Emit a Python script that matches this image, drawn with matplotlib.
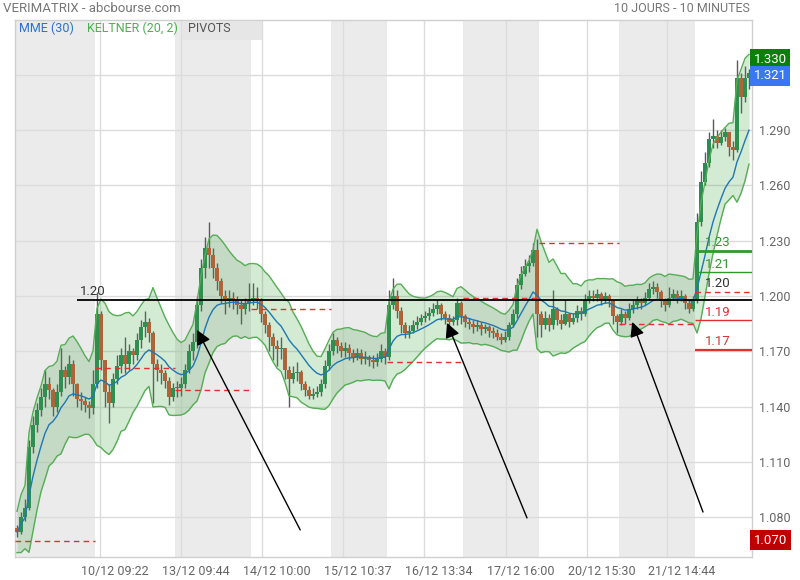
import numpy as np
import pandas as pd
import matplotlib
matplotlib.use("Agg")
import matplotlib.pyplot as plt
from matplotlib.patches import Rectangle
from matplotlib.transforms import blended_transform_factory

plt.rcParams['font.family'] = ['Roboto', 'DejaVu Sans']

# bars per trading day (coarser bars than the original 10 minute ones)
day_bars = [20, 20, 19, 20, 14, 19, 19, 20, 19, 14]

first_open = 1.074
close = [
    # 09/12
    1.072, 1.080, 1.085, 1.118, 1.130, 1.138, 1.145, 1.152, 1.149, 1.140,
    1.148, 1.160, 1.156, 1.163, 1.152, 1.144, 1.143, 1.141, 1.139, 1.152,
    # 10/12
    1.190, 1.165, 1.148, 1.142, 1.155, 1.162, 1.168, 1.163, 1.170, 1.168,
    1.176, 1.183, 1.186, 1.180, 1.163, 1.160, 1.158, 1.154, 1.145, 1.150,
    # 13/12
    1.150, 1.152, 1.160, 1.170, 1.175, 1.195, 1.215, 1.226, 1.222, 1.215,
    1.208, 1.200, 1.197, 1.199, 1.198, 1.195, 1.193, 1.196, 1.197,
    # 14/12
    1.199, 1.197, 1.190, 1.184, 1.178, 1.173, 1.171, 1.172, 1.160, 1.155,
    1.158, 1.159, 1.152, 1.149, 1.146, 1.147, 1.148, 1.152, 1.162, 1.170,
    # 15/12
    1.176, 1.173, 1.170, 1.172, 1.169, 1.167, 1.169, 1.166, 1.167, 1.165,
    1.164, 1.166, 1.170, 1.167,
    # 16/12
    1.195, 1.200, 1.192, 1.184, 1.180, 1.181, 1.184, 1.186, 1.188, 1.189,
    1.191, 1.193, 1.195, 1.190, 1.188, 1.186, 1.187, 1.196, 1.189,
    # 17/12
    1.186, 1.185, 1.183, 1.184, 1.182, 1.183, 1.181, 1.180, 1.178, 1.176,
    1.178, 1.184, 1.190, 1.206, 1.212, 1.216, 1.218, 1.225, 1.190,
    # 20/12
    1.184, 1.188, 1.184, 1.193, 1.187, 1.185, 1.190, 1.186, 1.188, 1.192,
    1.190, 1.198, 1.200, 1.199, 1.201, 1.198, 1.200, 1.197, 1.189, 1.186,
    # 21/12
    1.190, 1.188, 1.193, 1.195, 1.197, 1.196, 1.199, 1.204, 1.205, 1.202,
    1.197, 1.195, 1.199, 1.201, 1.199, 1.200, 1.196, 1.193, 1.197,
    # 22/12
    1.240, 1.262, 1.272, 1.285, 1.287, 1.283, 1.286, 1.289, 1.281, 1.279,
    1.318, 1.308, 1.318, 1.321,
]
high = [
    1.076, 1.083, 1.090, 1.122, 1.135, 1.142, 1.150, 1.160, 1.156, 1.150,
    1.152, 1.172, 1.162, 1.168, 1.165, 1.153, 1.148, 1.145, 1.143, 1.160,
    1.202, 1.192, 1.165, 1.152, 1.158, 1.168, 1.172, 1.178, 1.174, 1.172,
    1.180, 1.187, 1.192, 1.188, 1.181, 1.166, 1.163, 1.160, 1.156, 1.153,
    1.154, 1.156, 1.163, 1.174, 1.180, 1.200, 1.220, 1.232, 1.240, 1.226,
    1.218, 1.210, 1.203, 1.203, 1.202, 1.200, 1.198, 1.199, 1.207,
    1.207, 1.205, 1.199, 1.192, 1.186, 1.180, 1.176, 1.178, 1.172, 1.162,
    1.162, 1.164, 1.160, 1.154, 1.151, 1.150, 1.151, 1.155, 1.165, 1.174,
    1.180, 1.178, 1.175, 1.175, 1.174, 1.171, 1.172, 1.171, 1.170, 1.168,
    1.168, 1.169, 1.174, 1.172,
    1.203, 1.210, 1.203, 1.194, 1.186, 1.184, 1.187, 1.189, 1.190, 1.192,
    1.194, 1.196, 1.198, 1.196, 1.192, 1.190, 1.189, 1.199, 1.197,
    1.190, 1.188, 1.187, 1.187, 1.186, 1.185, 1.184, 1.183, 1.182, 1.180,
    1.181, 1.186, 1.193, 1.210, 1.216, 1.220, 1.222, 1.229, 1.231,
    1.192, 1.192, 1.190, 1.203, 1.194, 1.190, 1.198, 1.191, 1.191, 1.195,
    1.194, 1.201, 1.203, 1.203, 1.204, 1.202, 1.202, 1.201, 1.198, 1.190,
    1.193, 1.192, 1.196, 1.198, 1.200, 1.199, 1.202, 1.207, 1.208, 1.207,
    1.203, 1.199, 1.205, 1.204, 1.203, 1.203, 1.201, 1.198, 1.200,
    1.245, 1.268, 1.278, 1.289, 1.296, 1.290, 1.290, 1.291, 1.289, 1.284,
    1.328, 1.321, 1.325, 1.323,
]
low = [
    1.069, 1.071, 1.078, 1.084, 1.115, 1.126, 1.135, 1.140, 1.144, 1.135,
    1.137, 1.146, 1.150, 1.152, 1.146, 1.140, 1.138, 1.137, 1.134, 1.136,
    1.150, 1.160, 1.140, 1.131, 1.140, 1.152, 1.158, 1.158, 1.160, 1.163,
    1.165, 1.172, 1.178, 1.175, 1.142, 1.154, 1.152, 1.150, 1.141, 1.143,
    1.145, 1.146, 1.150, 1.158, 1.165, 1.172, 1.192, 1.210, 1.215, 1.210,
    1.203, 1.196, 1.190, 1.194, 1.193, 1.190, 1.185, 1.190, 1.192,
    1.195, 1.193, 1.186, 1.180, 1.170, 1.165, 1.162, 1.166, 1.155, 1.140,
    1.153, 1.154, 1.149, 1.146, 1.144, 1.144, 1.145, 1.146, 1.150, 1.160,
    1.168, 1.169, 1.167, 1.167, 1.165, 1.164, 1.165, 1.163, 1.163, 1.162,
    1.161, 1.162, 1.164, 1.163,
    1.165, 1.193, 1.188, 1.180, 1.177, 1.177, 1.180, 1.182, 1.184, 1.186,
    1.187, 1.189, 1.190, 1.187, 1.185, 1.183, 1.184, 1.184, 1.185,
    1.183, 1.182, 1.180, 1.181, 1.179, 1.180, 1.178, 1.177, 1.176, 1.174,
    1.175, 1.176, 1.183, 1.188, 1.204, 1.211, 1.213, 1.216, 1.178,
    1.178, 1.182, 1.181, 1.182, 1.184, 1.182, 1.184, 1.183, 1.185, 1.186,
    1.187, 1.189, 1.196, 1.197, 1.197, 1.195, 1.196, 1.194, 1.185, 1.180,
    1.184, 1.185, 1.187, 1.191, 1.193, 1.193, 1.195, 1.198, 1.201, 1.199,
    1.194, 1.192, 1.194, 1.198, 1.196, 1.197, 1.193, 1.191, 1.192,
    1.196, 1.238, 1.260, 1.270, 1.280, 1.280, 1.282, 1.284, 1.276, 1.274,
    1.278, 1.299, 1.305, 1.312,
]

# pivot level drawn on each day (None = not visible)
day_pivot = [1.067, 1.161, 1.149, 1.193, None, 1.164, 1.199, 1.229, 1.185, None]

# pivots of the last day: label, level, colour, width, style
last_pivots = [
    ("1.23", 1.2245, "#2e9a2e", 2.0, "-"),
    ("1.21", 1.2130, "#2e9a2e", 1.0, "-"),
    ("1.20", 1.2022, "#e03030", 1.0, "--"),
    ("1.19", 1.1867, "#e03030", 1.0, "-"),
    ("1.17", 1.1708, "#e03030", 1.6, "-"),
]
label_colors = {"1.23": "#2e9a2e", "1.21": "#2e9a2e", "1.20": "#333333",
                "1.19": "#e03030", "1.17": "#e03030"}

line_level = 1.198
line_start = 15

# arrows drawn on the chart: (tail bar, tail price), (head bar, head price)
arrows = [
    ((70.8, 1.0731), (45.0, 1.1816)),
    ((127.5, 1.0796), (107.5, 1.1854)),
    ((171.5, 1.0828), (153.8, 1.1859)),
]

tick_labels = ["10/12 09:22", "13/12 09:44", "14/12 10:00", "15/12 10:37",
               "16/12 13:34", "17/12 16:00", "20/12 15:30", "21/12 14:44"]
grid_x = [20.75, 41.0, 61.25, 81.5, 101.75, 122.25, 142.5, 162.5]
price_ticks = [1.080, 1.110, 1.140, 1.170, 1.200, 1.230, 1.260, 1.290, 1.320]

price_boxes = [("1.330", 1.3283, "#0a7f0a"), ("1.321", 1.3194, "#3a78f2"),
               ("1.070", 1.0676, "#c00000")]

# ---------------------------------------------------------------
df = pd.DataFrame({"close": close, "high": high, "low": low})
df["open"] = [first_open] + close[:-1]
n = len(df)
x = np.arange(n)

prev_close = df["close"].shift(1).fillna(first_open)
tr = pd.concat([df["high"] - df["low"],
                (df["high"] - prev_close).abs(),
                (df["low"] - prev_close).abs()], axis=1).max(axis=1)
# periods scaled to the coarser bars
mme = df["close"].ewm(span=12).mean()
mid = df["close"].ewm(span=8).mean()
atr = tr.ewm(span=8).mean()
upper = mid + 1.6 * atr
lower = mid - 1.6 * atr

fig = plt.figure(figsize=(8, 5.8), dpi=100)
ax = fig.add_axes([15 / 800, 23 / 580, 737 / 800, 537 / 580])
ax.set_xlim(-0.5, 183.75)
ax.set_ylim(1.0584, 1.3497)

# alternating day bands
starts = np.cumsum([0] + day_bars)
for d in range(len(day_bars)):
    if d % 2 == 0:
        ax.axvspan(starts[d] - 0.5, starts[d + 1] - 0.5, color="#ebebeb", lw=0, zorder=0)

for p in price_ticks:
    ax.axhline(p, color="#dcdcdc", lw=1, zorder=1)
for g in grid_x:
    ax.axvline(g, color="#dcdcdc", lw=1, zorder=1)

# candles
up = df["close"] >= df["open"]
colors = np.where(up, "#2e8b57", "#cf5438")
body_lo = np.minimum(df["open"], df["close"])
body_h = np.maximum((df["close"] - df["open"]).abs(), 0.0008)
ax.vlines(x, df["low"], df["high"], color="#5a5a5a", lw=1, zorder=2)
ax.bar(x, body_h, bottom=body_lo, width=0.88, color=colors, zorder=3)

# keltner
ax.fill_between(x, lower, upper, color="#3aa03a", alpha=0.22, lw=0, zorder=4)
ax.plot(x, upper, color="#55ad55", lw=1, zorder=5)
ax.plot(x, lower, color="#55ad55", lw=1, zorder=5)
ax.plot(x, mme, color="#1f77b4", lw=1.0, zorder=6)

# daily pivots
for d, lvl in enumerate(day_pivot):
    if lvl is None:
        continue
    ax.hlines(lvl, starts[d] - 0.5, starts[d + 1] - 0.5, colors="#e03030",
              lw=1, linestyles=(0, (4, 3)), zorder=7)

last = starts[-2] - 0.5
for lbl, lvl, col, lw, ls in last_pivots:
    ax.hlines(lvl, last, 183.75, colors=col, lw=lw,
              linestyles=(0, (4, 3)) if ls == "--" else "-", zorder=7)
    ax.text(last + 2.5, lvl + 0.0008, lbl, color=label_colors[lbl], fontsize=9.5,
            va="bottom", ha="left", zorder=9)

ax.hlines(line_level, line_start, 183.75, colors="black", lw=1.3, zorder=8)
ax.text(line_start + 0.8, line_level + 0.0008, "1.20", color="#333333",
        fontsize=9.5, va="bottom", ha="left", zorder=9)

for tail, head in arrows:
    ax.annotate("", xy=head, xytext=tail,
                arrowprops=dict(arrowstyle="-|>", color="black", lw=1,
                                mutation_scale=22, shrinkA=0, shrinkB=0),
                zorder=9)

# axes styling (the 1.320 label is hidden behind the price box)
ax.yaxis.tick_right()
ax.set_yticks(price_ticks)
ax.set_yticklabels([f"{p:.3f}" if p < 1.31 else "" for p in price_ticks])
ax.set_xticks([g + 3.75 for g in grid_x])
ax.set_xticklabels(tick_labels)
ax.tick_params(length=0, labelsize=9, colors="#666666")
ax.tick_params(axis="y", pad=5)
ax.tick_params(axis="x", pad=6)
for s in ax.spines.values():
    s.set_color("#d0d0d0")
    s.set_linewidth(1)

trans = blended_transform_factory(ax.transAxes, ax.transData)
for lbl, lvl, col in price_boxes:
    ax.text(1.002, lvl, lbl, transform=trans, color="white", fontsize=9.5,
            va="center", ha="left", zorder=10, clip_on=False,
            bbox=dict(boxstyle="square,pad=0.28", fc=col, ec="none"))

# legend / titles
fig.patches.append(Rectangle((182 / 800, (580 - 40) / 580), 80 / 800, 19 / 580,
                             transform=fig.transFigure, color="#e6e6e6", lw=0, zorder=0))
fig.text(19 / 800, 1 - 28 / 580, "MME (30)", color="#2a70c8", fontsize=9, va="center")
fig.text(87 / 800, 1 - 28 / 580, "KELTNER (20, 2)", color="#4caf50", fontsize=9, va="center")
fig.text(188 / 800, 1 - 28 / 580, "PIVOTS", color="#555555", fontsize=9, va="center")
fig.text(3 / 800, 1 - 9 / 580, "VERIMATRIX - abcbourse.com", color="#777777",
         fontsize=9.5, va="center")
fig.text(750 / 800, 1 - 9 / 580, "10 JOURS - 10 MINUTES", color="#777777",
         fontsize=9, va="center", ha="right")

fig.savefig("out.png", dpi=100)
